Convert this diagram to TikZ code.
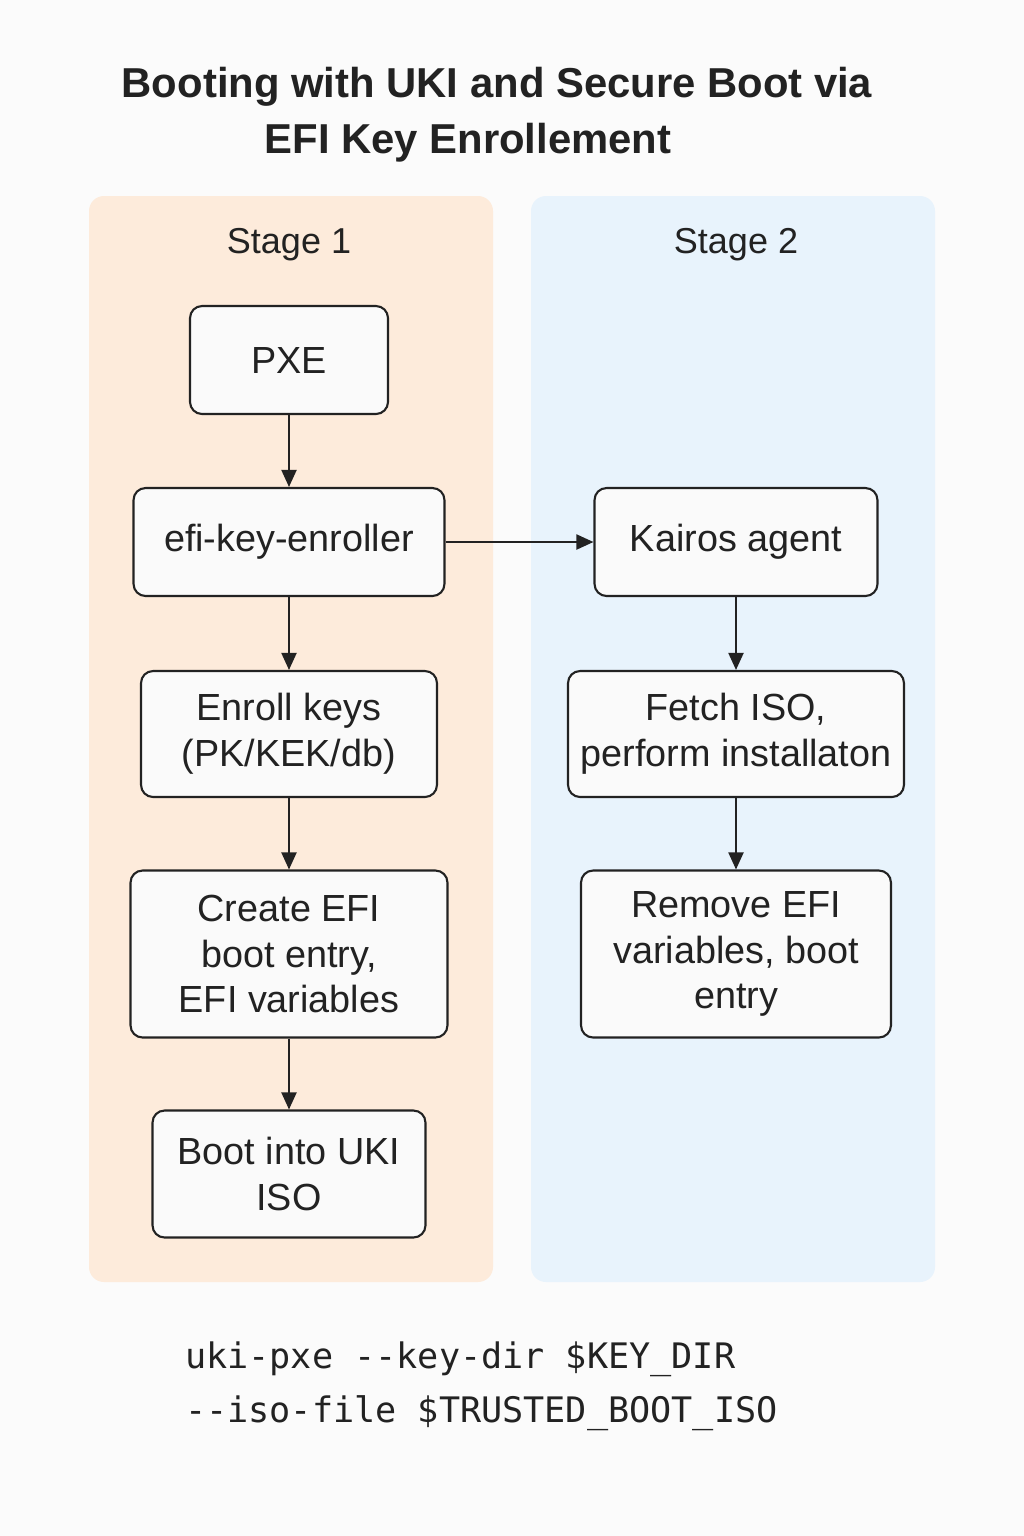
\documentclass[tikz,border=0pt]{standalone}
\usepackage{fontspec}
\setmainfont{Liberation Sans}
\setmonofont{DejaVu Sans Mono}
\usetikzlibrary{arrows.meta}

\definecolor{pagebg}{HTML}{FBFBFB}
\definecolor{peach}{HTML}{FDEBDB}
\definecolor{paleblue}{HTML}{E8F3FC}
\definecolor{ink}{HTML}{222222}
\definecolor{boxfill}{HTML}{FAFAFA}

\tikzset{
  stepbox/.style={draw=ink, line width=1.2pt, rounded corners=0.24cm, fill=boxfill,
    align=center, text=ink, inner sep=0pt, font=\fontsize{21.5}{26}\selectfont},
  flow/.style={draw=ink, line width=1.1pt, -{Triangle[length=0.34cm, width=0.3cm]}},
  panel/.style={rounded corners=0.3cm},
  stagelabel/.style={anchor=base, text=ink, font=\fontsize{20.5}{24}\selectfont},
  titleline/.style={anchor=base, text=ink, font=\bfseries\fontsize{23.8}{28}\selectfont}
}

\begin{document}
\begin{tikzpicture}[x=0.02cm, y=-0.02cm]

% Page background
\fill[pagebg] (0,0) rectangle (1024,1536);

% Title
\node[titleline] (title1) at (497,97) {Booting with UKI and Secure Boot via};
\node[titleline] (title2) at (468,153) {EFI Key Enrollement};

% The two stage panels
\fill[peach, panel] (89,196) rectangle (493,1282);
\fill[paleblue, panel] (531,196) rectangle (935,1282);
\node[stagelabel] (stage1) at (289,253) {Stage 1};
\node[stagelabel] (stage2) at (736,253) {Stage 2};

% Stage 1 steps
\node[stepbox, minimum width=3.96cm, minimum height=2.16cm] (pxe) at (289,360) {PXE};
\node[stepbox, minimum width=6.22cm, minimum height=2.16cm] (enroller) at (289,542) {efi-key-enroller};
\node[stepbox, minimum width=5.92cm, minimum height=2.52cm] (keys) at (289,734) {Enroll keys\\(PK/KEK/db)};
\node[stepbox, minimum width=6.34cm, minimum height=3.34cm] (entry) at (289,954) {Create EFI\\boot entry,\\EFI variables};
\node[stepbox, minimum width=5.46cm, minimum height=2.54cm] (uki) at (289,1174) {Boot into UKI\\ISO};

% Stage 2 steps
\node[stepbox, minimum width=5.66cm, minimum height=2.16cm] (agent) at (736,542) {Kairos agent};
\node[stepbox, minimum width=6.72cm, minimum height=2.52cm] (fetch) at (736,734) {Fetch ISO,\\perform installaton};
\node[stepbox, minimum width=6.20cm, minimum height=3.34cm] (cleanup) at (736,954) {Remove EFI\\variables, boot\\entry};

% Connectors
\draw[flow] (pxe) -- (enroller);
\draw[flow] (enroller) -- (keys);
\draw[flow] (keys) -- (entry);
\draw[flow] (entry) -- (uki);
\draw[flow] (enroller) -- (agent);
\draw[flow] (agent) -- (fetch);
\draw[flow] (fetch) -- (cleanup);

% Command line
\node[anchor=base west, text=ink, font=\ttfamily\fontsize{20}{24}\selectfont] (cmd1) at (179,1368) {uki-pxe --key-dir \$KEY\_DIR};
\node[anchor=base west, text=ink, font=\ttfamily\fontsize{20}{24}\selectfont] (cmd2) at (179,1422) {--iso-file \$TRUSTED\_BOOT\_ISO};

\end{tikzpicture}
\end{document}
